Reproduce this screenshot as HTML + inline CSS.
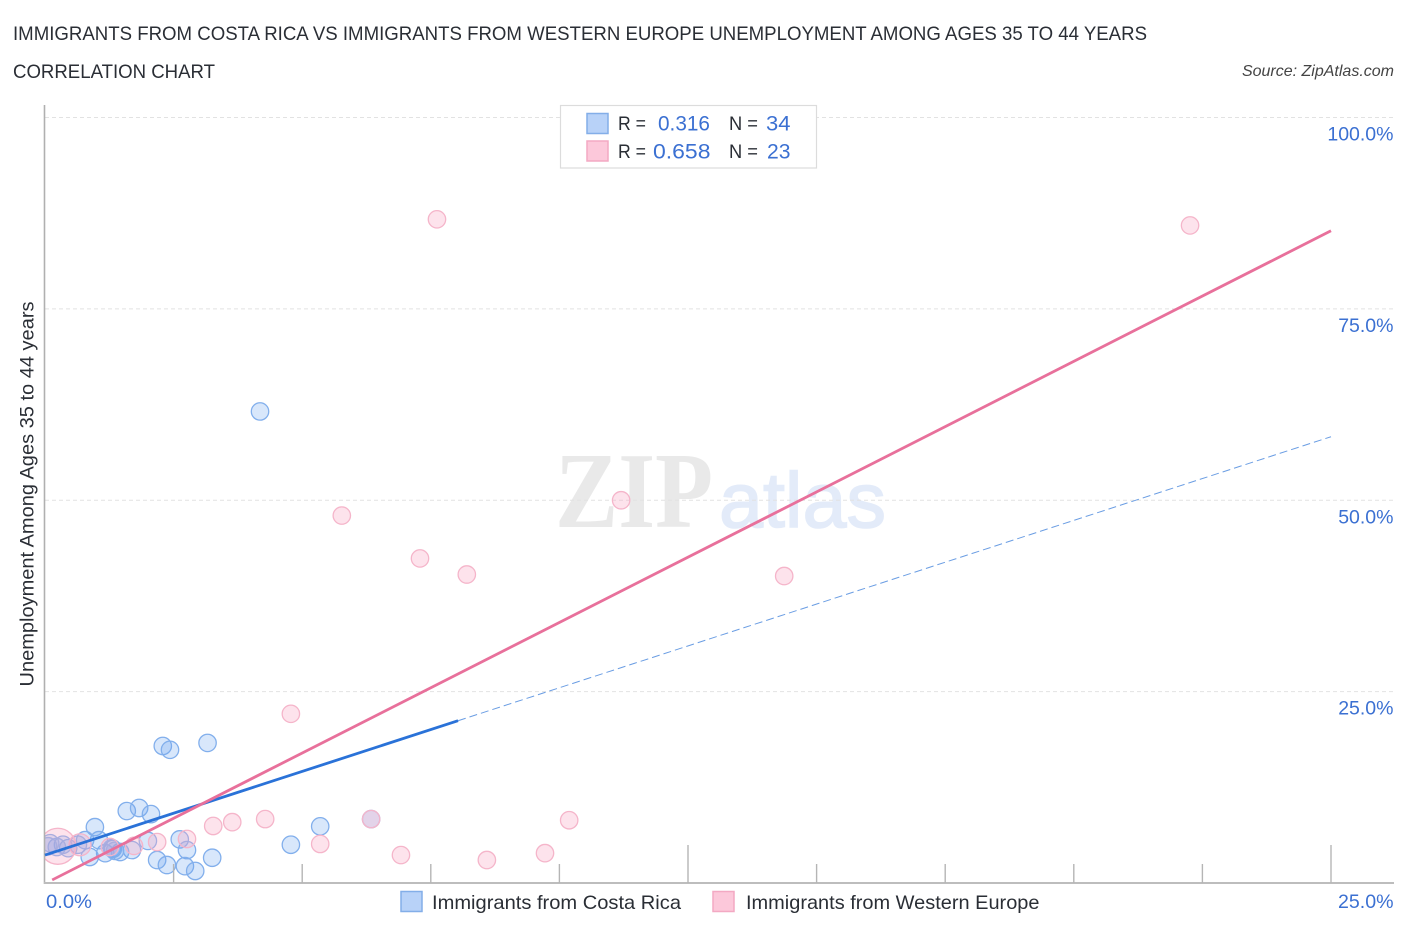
<!DOCTYPE html>
<html lang="en">
<head>
<meta charset="utf-8">
<title>Correlation Chart</title>
<style>
html,body{margin:0;padding:0;background:#fff;width:1406px;height:930px;overflow:hidden}
svg{display:block}
text{font-family:"Liberation Sans",sans-serif}
.blue{fill:#3b70d2}
.dark{fill:#2a2e35}
</style>
</head>
<body>
<svg id="chart" width="1406" height="930" viewBox="0 0 1406 930" xmlns="http://www.w3.org/2000/svg">
  <defs>
    <clipPath id="plotClip"><rect x="45" y="100" width="1350" height="783"/></clipPath>
  </defs>
  <rect x="0" y="0" width="1406" height="930" fill="#fff"/>
  <text class="dark" x="13" y="40" font-size="19.5" textLength="1134" lengthAdjust="spacingAndGlyphs">IMMIGRANTS FROM COSTA RICA VS IMMIGRANTS FROM WESTERN EUROPE UNEMPLOYMENT AMONG AGES 35 TO 44 YEARS</text>
  <text class="dark" x="13" y="78" font-size="19.5" textLength="202" lengthAdjust="spacingAndGlyphs">CORRELATION CHART</text>
  <text x="1394" y="76" font-size="16" font-style="italic" text-anchor="end" fill="#444">Source: ZipAtlas.com</text>

  <g>
    <text x="555" y="527" style="font-family:'Liberation Serif',serif" font-size="108" font-weight="bold" fill="#e9e9e9" textLength="158" lengthAdjust="spacingAndGlyphs">ZIP</text>
    <text x="719" y="527" font-size="78" fill="#e3ebf9" stroke="#e3ebf9" stroke-width="1.5" textLength="167" lengthAdjust="spacingAndGlyphs">atlas</text>
  </g>

  <g id="grid"></g>
  <g id="yTickLabels"></g>
  <g id="bluePoints" clip-path="url(#plotClip)"></g>
  <g id="pinkPoints" clip-path="url(#plotClip)"></g>
  <g id="axes"></g>
  <g id="trends"></g>

  <text class="dark" transform="translate(33.5,494) rotate(-90)" font-size="19" text-anchor="middle" textLength="385" lengthAdjust="spacingAndGlyphs">Unemployment Among Ages 35 to 44 years</text>

  <text class="blue" x="46" y="908" font-size="19.5" textLength="46" lengthAdjust="spacingAndGlyphs">0.0%</text>
  <text class="blue" x="1338" y="908" font-size="19.5" textLength="55.5" lengthAdjust="spacingAndGlyphs">25.0%</text>

  <g>
    <rect x="560.5" y="105.5" width="256" height="62.5" fill="#fff" stroke="#dcdcdc" stroke-width="1.2"/>
    <rect x="587" y="113.5" width="21" height="20" fill="#b8d2f8" stroke="#83aee8" stroke-width="1.5"/>
    <rect x="587" y="141" width="21" height="20" fill="#fcc8da" stroke="#f3a9c3" stroke-width="1.5"/>
    <text class="dark" x="618" y="130" font-size="19.5" textLength="28" lengthAdjust="spacingAndGlyphs">R =</text>
    <text class="blue" x="658" y="130.5" font-size="21.5" textLength="52" lengthAdjust="spacingAndGlyphs">0.316</text>
    <text class="dark" x="729" y="130" font-size="19.5" textLength="29" lengthAdjust="spacingAndGlyphs">N =</text>
    <text class="blue" x="766" y="130.5" font-size="21.5" textLength="24.5" lengthAdjust="spacingAndGlyphs">34</text>
    <text class="dark" x="618" y="158" font-size="19.5" textLength="28" lengthAdjust="spacingAndGlyphs">R =</text>
    <text class="blue" x="653" y="158.5" font-size="21.5" textLength="57.5" lengthAdjust="spacingAndGlyphs">0.658</text>
    <text class="dark" x="729" y="158" font-size="19.5" textLength="29" lengthAdjust="spacingAndGlyphs">N =</text>
    <text class="blue" x="767" y="158.5" font-size="21.5" textLength="23.5" lengthAdjust="spacingAndGlyphs">23</text>
  </g>

  <g>
    <g>
      <rect x="401" y="891.5" width="21" height="20" fill="#b8d2f8" stroke="#83aee8" stroke-width="1.5"/>
      <text class="dark" x="432" y="909" font-size="19.5" textLength="249" lengthAdjust="spacingAndGlyphs">Immigrants from Costa Rica</text>
    </g>
    <g>
      <rect x="713" y="891.5" width="21" height="20" fill="#fcc8da" stroke="#f3a9c3" stroke-width="1.5"/>
      <text class="dark" x="746" y="909" font-size="19.5" textLength="293.5" lengthAdjust="spacingAndGlyphs">Immigrants from Western Europe</text>
    </g>
  </g>
</svg>
<script>
// Chart data (percent values)
var costaRicaX = [4.18,2.29,2.43,3.16,1.59,1.83,2.06,0.97,5.35,4.78,3.25,2.62,2.76,2.00,2.18,2.37,2.72,2.92,1.69,1.46,1.32,1.17,0.87,1.05,0.78,0.64,0.45,0.35,0.23,0.10,0.06,1.30,6.34,1.36];
var costaRicaY = [61.6,17.9,17.4,18.3,9.4,9.8,9.0,7.3,7.4,5.0,3.3,5.7,4.3,5.5,3.0,2.35,2.2,1.57,4.3,4.05,4.45,3.9,3.4,5.6,5.6,5.0,4.55,5.0,4.7,5.2,4.8,4.55,8.35,4.2];
var westernEuropeX = [7.62,22.26,5.77,11.2,7.29,8.2,14.37,4.78,10.19,4.28,3.64,3.27,2.76,2.18,1.73,5.35,6.92,8.59,9.72,6.34,0.68,1.26,0.25];
var westernEuropeY = [86.7,85.9,48.0,50.0,42.4,40.3,40.1,22.1,8.2,8.35,7.95,7.45,5.75,5.35,4.85,5.1,3.65,3.0,3.9,8.35,5.0,4.7,4.8];
var westernEuropeWeight = [1,1,1,1,1,1,1,1,1,1,1,1,1,1,1,1,1,1,1,1,1.6,1,4.3];
var costaRicaTrendX = [0, 8.03, 25];
var costaRicaTrendY = [3.65, 21.2, 58.3];
var westernEuropeTrendX = [0.14, 25];
var westernEuropeTrendY = [0.4, 85.2];
var xTicks = [0,2.5,5,7.5,10,12.5,15,17.5,20,22.5,25];
var xMajorTicks = [12.5,25];
var yGridTicks = [100,75,50,25];
var yTickLabels = ['100.0%','75.0%','50.0%','25.0%'];

function xScale(v){ return 45 + v * 51.44; }
function yScale(v){ return 883 - v * 7.655; }
var NS = 'http://www.w3.org/2000/svg';
function make(parent, tag, props){
  var el = document.createElementNS(NS, tag);
  for (var k in props) el.setAttribute(k, props[k]);
  parent.appendChild(el);
  return el;
}

var gridG = document.getElementById('grid');
yGridTicks.forEach(function(t){
  var l = make(gridG, 'line', {x1:45, x2:1393, y1:yScale(t), y2:yScale(t), stroke:'#e2e2e2', 'stroke-width':1, 'stroke-dasharray':'4 3'});
  
  
});

var labelG = document.getElementById('yTickLabels');
yGridTicks.forEach(function(t, i){
  var el = make(labelG, 'text', {x:1393.5, y:yScale(t)+23, 'font-size':19.5, 'text-anchor':'end', 'class':'blue'});
  el.textContent = yTickLabels[i];
  
  
});

var axesG = document.getElementById('axes');
var yAxis = make(axesG, 'line', {x1:44.5, x2:44.5, y1:105, y2:884, stroke:'#b0b0b0', 'stroke-width':1.6});


var xAxis = make(axesG, 'line', {x1:44, x2:1394, y1:883, y2:883, stroke:'#bdbdbd', 'stroke-width':2});


xTicks.slice(1).forEach(function(t){
  var top = xMajorTicks.indexOf(t) >= 0 ? 845 : 864;
  var tk = make(axesG, 'line', {x1:xScale(t), x2:xScale(t), y1:top, y2:883, stroke:'#b5b5b5', 'stroke-width':1.4});
  
  
});

var blueG = document.getElementById('bluePoints');
costaRicaX.forEach(function(v, i){
  var c = make(blueG, 'circle', {cx:xScale(v), cy:yScale(costaRicaY[i]), r:8.7, fill:'rgba(110,165,240,0.27)', stroke:'#82afec', 'stroke-width':1.3});
  
  
});

var pinkG = document.getElementById('pinkPoints');
westernEuropeX.forEach(function(v, i){
  var c = make(pinkG, 'circle', {cx:xScale(v), cy:yScale(westernEuropeY[i]), r:8.7*Math.sqrt(westernEuropeWeight[i]), fill:'rgba(248,170,197,0.33)', stroke:'#f5b5ca', 'stroke-width':1.3});
  
  
});

var trendG = document.getElementById('trends');
var blueSolid = make(trendG, 'line', {x1:xScale(costaRicaTrendX[0]), y1:yScale(costaRicaTrendY[0]), x2:xScale(costaRicaTrendX[1]), y2:yScale(costaRicaTrendY[1]), stroke:'#2a72d8', 'stroke-width':2.8});


var blueDash = make(trendG, 'line', {x1:xScale(costaRicaTrendX[1]), y1:yScale(costaRicaTrendY[1]), x2:xScale(costaRicaTrendX[2]), y2:yScale(costaRicaTrendY[2]), stroke:'#6a9de3', 'stroke-width':1, 'stroke-dasharray':'8 4'});


var pinkLine = make(trendG, 'line', {x1:xScale(westernEuropeTrendX[0]), y1:yScale(westernEuropeTrendY[0]), x2:xScale(westernEuropeTrendX[1]), y2:yScale(westernEuropeTrendY[1]), stroke:'#e8709b', 'stroke-width':2.8});


</script>
</body>
</html>
